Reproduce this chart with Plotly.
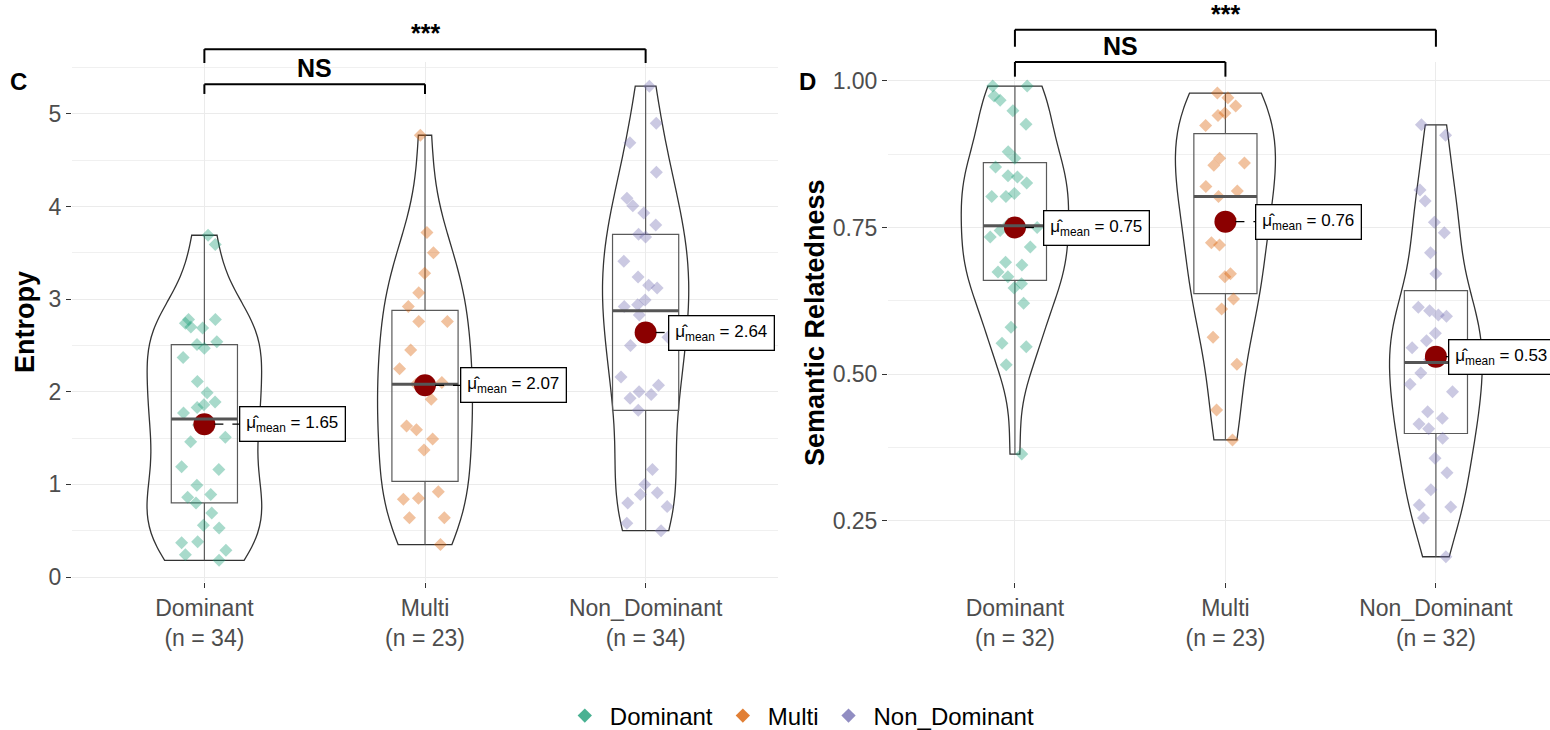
import numpy as np
import plotly.graph_objects as go

# ---------------- data ----------------
categories = ["Dominant", "Multi", "Non_Dominant"]
palette = ["#1B9E77", "#D95F02", "#7570B3"]

entropy_dominant = [3.69, 3.59, 2.78, 2.69, 2.74, 2.78, 2.54, 2.47, 2.51, 2.37, 2.11, 1.99,
                    1.89, 1.86, 1.83, 1.77, 1.51, 1.46, 1.64, 1.19, 1.16, 0.99, 0.89, 0.86,
                    0.80, 0.69, 0.56, 0.53, 0.38, 0.37, 0.29, 0.24, 0.18, 2.70]
entropy_multi = [4.77, 3.72, 3.50, 3.28, 3.07, 2.92, 2.76, 2.76, 2.45, 2.25, 2.10, 2.08,
                 1.92, 1.63, 1.59, 1.49, 1.37, 0.92, 0.85, 0.84, 0.64, 0.64, 0.35]
entropy_non_dominant = [5.30, 4.90, 4.69, 4.37, 4.09, 4.01, 3.93, 3.80, 3.70, 3.67, 3.41, 3.24,
                        3.15, 3.12, 2.99, 2.94, 2.92, 2.83, 2.59, 2.50, 2.16, 2.07, 2.00, 1.97,
                        1.93, 1.80, 1.16, 1.00, 0.91, 0.89, 0.80, 0.76, 0.58, 0.50]
entropy_means = [1.65, 2.07, 2.64]

semantic_dominant = [0.991, 0.991, 0.974, 0.967, 0.949, 0.926, 0.879, 0.868, 0.853, 0.838,
                     0.836, 0.826, 0.803, 0.808, 0.803, 0.756, 0.734, 0.717, 0.691, 0.686,
                     0.674, 0.666, 0.654, 0.647, 0.621, 0.580, 0.553, 0.547, 0.516, 0.364,
                     0.750, 0.745]
semantic_multi = [0.979, 0.971, 0.957, 0.945, 0.941, 0.924, 0.860, 0.868, 0.856, 0.820,
                  0.812, 0.803, 0.765, 0.720, 0.724, 0.666, 0.671, 0.628, 0.611, 0.563,
                  0.517, 0.439, 0.388]
semantic_non_dominant = [0.925, 0.907, 0.814, 0.795, 0.759, 0.741, 0.707, 0.671, 0.608, 0.601,
                         0.599, 0.614, 0.570, 0.557, 0.545, 0.502, 0.483, 0.470, 0.436, 0.425,
                         0.415, 0.407, 0.391, 0.357, 0.332, 0.303, 0.277, 0.274, 0.255, 0.189,
                         0.525, 0.515]
semantic_means = [0.75, 0.76, 0.53]

comparisons = [(1, 2), (1, 3)]
comparison_labels = ["NS", "***"]
entropy_bracket_levels = [5.32, 5.70]
entropy_bracket_tips = [5.216, 5.55]
semantic_bracket_levels = [1.032, 1.087]
semantic_bracket_tips = [1.007, 1.058]

# ---------------- helpers ----------------
W, H = 1550, 730
FONT = "Liberation Sans, Arial, sans-serif"
GRID = "#EBEBEB"


def rgba(h, a):
    h = h.lstrip("#")
    return "rgba(%d,%d,%d,%.2f)" % (int(h[0:2], 16), int(h[2:4], 16), int(h[4:6], 16), a)


def r_bandwidth(v):
    v = np.asarray(v, float)
    sd = v.std(ddof=1)
    q75, q25 = np.percentile(v, [75, 25])
    return 0.9 * min(sd, (q75 - q25) / 1.34) * len(v) ** -0.2


def frac(v, rng):
    return (v - rng[0]) / (rng[1] - rng[0])


def py(y):
    """paper y for a vertical pixel position of the layout"""
    return 1 - y / H


ydom = [py(582), py(62)]

panels = [
    dict(sfx="", groups=[entropy_dominant, entropy_multi, entropy_non_dominant],
         means=entropy_means, xdom=(72, 778), xrange=[0.4, 3.6], yrange=[-0.054, 5.561],
         dtick=1, minor=0.5, fmt="d", vw=[0.52, 0.43, 0.39], ytitle="Entropy", ytx=25,
         tag="C", tagx=18, levels=entropy_bracket_levels, tips=entropy_bracket_tips,
         lshift=[35, 35, 22]),
    dict(sfx="2", groups=[semantic_dominant, semantic_multi, semantic_non_dominant],
         means=semantic_means, xdom=(888, 1550), xrange=[0.397, 3.542], yrange=[0.146, 1.032],
         dtick=0.25, minor=0.125, fmt=".2f", vw=[0.51, 0.475, 0.44],
         ytitle="Semantic Relatedness", ytx=815, tag="D", tagx=808,
         levels=semantic_bracket_levels, tips=semantic_bracket_tips,
         lshift=[28, 30, 12]),
]

fig = go.Figure()
shapes = []
annotations = []
layout_axes = {}

for p in panels:
    xa, ya = "x" + p["sfx"], "y" + p["sfx"]
    for k, (vals, col) in enumerate(zip(p["groups"], palette)):
        pos = k + 1
        fig.add_trace(go.Violin(
            x=[pos] * len(vals), y=vals, xaxis=xa, yaxis=ya,
            points=False, box_visible=False, meanline_visible=False,
            line=dict(color="#333333", width=1.3), fillcolor="rgba(0,0,0,0)",
            spanmode="hard", width=p["vw"][k], scalemode="width",
            bandwidth=r_bandwidth(vals), showlegend=False, hoverinfo="skip"))
        fig.add_trace(go.Box(
            x=[pos] * len(vals), y=vals, xaxis=xa, yaxis=ya,
            boxpoints="all", jitter=0.9, pointpos=0, width=0.3, whiskerwidth=0,
            line=dict(color="#5A5A5A", width=1.2), fillcolor="rgba(0,0,0,0)",
            marker=dict(symbol="diamond", size=10, color=rgba(col, 0.38),
                        line=dict(width=0)),
            showlegend=False, hoverinfo="y"))
        # thicker median bar, as ggplot draws it
        med = float(np.median(vals))
        shapes.append(dict(type="line", xref=xa, yref=ya, x0=pos - 0.15, x1=pos + 0.15,
                           y0=med, y1=med, line=dict(color="#555555", width=3)))
    # mean points
    fig.add_trace(go.Scatter(
        x=[1, 2, 3], y=p["means"], xaxis=xa, yaxis=ya, mode="markers",
        marker=dict(color="#8B0000", size=22, symbol="circle"),
        showlegend=False, cliponaxis=False))
    for k, m in enumerate(p["means"]):
        sh = p["lshift"][k]
        shapes.append(dict(type="line", xref=xa, yref=ya, xsizemode="pixel", xanchor=k + 1,
                           x0=10, x1=sh, y0=m, y1=m,
                           line=dict(color="black", width=1.3, dash="dash")))
        annotations.append(dict(
            x=k + 1, y=m, xref=xa, yref=ya, xanchor="left", yanchor="middle", xshift=sh,
            text="μ̂<sub>mean</sub> = %.2f" % m, showarrow=False,
            font=dict(family=FONT, size=17, color="black"),
            bgcolor="white", bordercolor="black", borderwidth=1.3, borderpad=6))
    # significance brackets (drawn outside the panel, like ggsignif with clip off)
    xdr, ydr = xa + " domain", ya + " domain"
    for (a, b), lab, lev, tip in zip(comparisons, comparison_labels, p["levels"], p["tips"]):
        fa, fb = frac(a, p["xrange"]), frac(b, p["xrange"])
        fl, ft = frac(lev, p["yrange"]), frac(tip, p["yrange"])
        for (x0, y0, x1, y1) in [(fa, ft, fa, fl), (fa, fl, fb, fl), (fb, fl, fb, ft)]:
            shapes.append(dict(type="line", xref=xdr, yref=ydr, x0=x0, y0=y0, x1=x1, y1=y1,
                               line=dict(color="black", width=2)))
        annotations.append(dict(x=(fa + fb) / 2, y=fl, xref=xdr, yref=ydr,
                                xanchor="center", yanchor="bottom", text="<b>%s</b>" % lab,
                                showarrow=False, font=dict(family=FONT, size=25, color="black")))
    # y title and panel tag
    annotations.append(dict(x=p["ytx"] / W, y=py(322), xref="paper", yref="paper",
                            text="<b>%s</b>" % p["ytitle"], textangle=-90, showarrow=False,
                            xanchor="center", yanchor="middle",
                            font=dict(family=FONT, size=27, color="black")))
    annotations.append(dict(x=p["tagx"] / W, y=py(82), xref="paper", yref="paper",
                            text="<b>%s</b>" % p["tag"], showarrow=False,
                            xanchor="center", yanchor="middle",
                            font=dict(family=FONT, size=24, color="black")))
    ticktext = ["%s<br>(n = %d)" % (c, len(g)) for c, g in zip(categories, p["groups"])]
    layout_axes["xaxis" + p["sfx"]] = dict(
        domain=[p["xdom"][0] / W, p["xdom"][1] / W], range=p["xrange"], anchor=ya,
        tickmode="array", tickvals=[1, 2, 3], ticktext=ticktext, automargin=False,
        showgrid=True, gridcolor=GRID, gridwidth=1, zeroline=False, showline=False,
        ticks="outside", ticklen=5, tickcolor="#333333",
        tickfont=dict(family=FONT, size=23, color="#4D4D4D"))
    layout_axes["yaxis" + p["sfx"]] = dict(
        domain=ydom, range=p["yrange"], anchor=xa, tick0=0, dtick=p["dtick"],
        tickformat=p["fmt"], showgrid=True, gridcolor=GRID, gridwidth=1, automargin=False,
        zeroline=False, showline=False, ticks="outside", ticklen=5, tickcolor="#333333",
        tickfont=dict(family=FONT, size=23, color="#4D4D4D"),
        minor=dict(dtick=p["minor"], tick0=0, showgrid=True, gridcolor="#F0F0F0",
                   gridwidth=1, ticks=""))

# legend entries
for c, col in zip(categories, palette):
    fig.add_trace(go.Scatter(x=[None], y=[None], mode="markers", name=c,
                             marker=dict(symbol="diamond", size=11, color=rgba(col, 0.8)),
                             showlegend=True))

fig.update_layout(
    width=W, height=H, margin=dict(l=0, r=0, t=0, b=0, autoexpand=False),
    paper_bgcolor="white", plot_bgcolor="white",
    violinmode="overlay", boxmode="overlay",
    font=dict(family=FONT),
    shapes=shapes, annotations=annotations,
    legend=dict(orientation="h", x=0.516, xanchor="center", y=py(716), yanchor="middle",
                font=dict(family=FONT, size=24, color="black"), itemwidth=40),
)
fig.update_layout(**layout_axes)

page_fix = ("var s=document.documentElement.style, b=document.body.style;"
            "b.margin='0'; b.padding='0'; b.overflow='hidden'; s.overflow='hidden';"
            "b.height='%dpx'; s.height='%dpx';" % (H, H))
fig.write_html("out.html", config={"displayModeBar": False}, post_script=page_fix)
